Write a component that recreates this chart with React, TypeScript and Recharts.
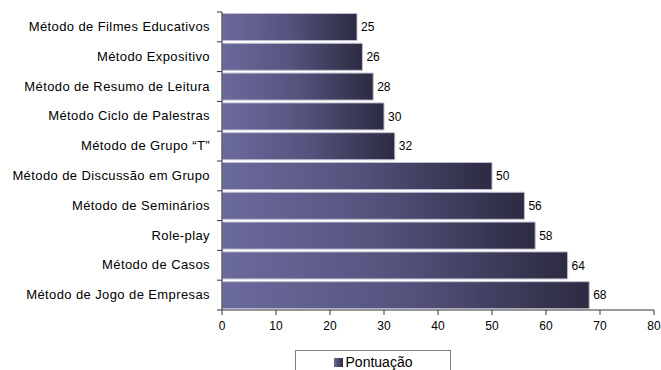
import { BarChart, Bar, XAxis, YAxis, LabelList } from "recharts"

const methods = [
  "Método de Filmes Educativos",
  "Método Expositivo",
  "Método de Resumo de Leitura",
  "Método Ciclo de Palestras",
  "Método de Grupo “T”",
  "Método de Discussão em Grupo",
  "Método de Seminários",
  "Role-play",
  "Método de Casos",
  "Método de Jogo de Empresas",
]
const scores = [25, 26, 28, 30, 32, 50, 56, 58, 64, 68]
const xTicks = [0, 10, 20, 30, 40, 50, 60, 70, 80]

const data = methods.map((name, i) => ({ name, score: scores[i] }))

const FONT = "'Liberation Sans', Arial, sans-serif"
const BAND = 298 / methods.length

// label plus Excel-style tick marks between categories
const CategoryTick = (props: any) => {
  const { x, y, payload, index } = props
  const ax = x + 12
  return (
    <g>
      <line x1={ax - 5} x2={ax} y1={y - BAND / 2} y2={y - BAND / 2} stroke="#333" />
      {index === methods.length - 1 && (
        <line x1={ax - 5} x2={ax} y1={y + BAND / 2} y2={y + BAND / 2} stroke="#333" />
      )}
      <text
        x={x}
        y={y}
        dy={4}
        textAnchor="end"
        fontSize={13}
        letterSpacing={0.4}
        fill="#000"
        fontFamily={FONT}
      >
        {payload.value}
      </text>
    </g>
  )
}

export default function App() {
  return (
    <div style={{ position: "absolute", left: 0, top: 0, width: 661, height: 370, background: "#fff" }}>
      <BarChart
        width={661}
        height={370}
        data={data}
        layout="vertical"
        margin={{ top: 12, right: 7, left: 0, bottom: 30 }}
        barCategoryGap="5%"
      >
        <defs>
          <linearGradient id="barGrad" x1="0" y1="0" x2="1" y2="0">
            <stop offset="0%" stopColor="#6b6a9d" />
            <stop offset="50%" stopColor="#55537d" />
            <stop offset="100%" stopColor="#2c2b41" />
          </linearGradient>
        </defs>
        <XAxis
          type="number"
          domain={[0, 80]}
          ticks={xTicks}
          interval={0}
          height={30}
          stroke="#333"
          tickSize={5}
          tickMargin={6}
          tick={{ fontSize: 12, fill: "#000", fontFamily: FONT }}
        />
        <YAxis
          type="category"
          dataKey="name"
          width={222}
          stroke="#333"
          tickLine={false}
          tickSize={5}
          tickMargin={7}
          interval={0}
          tick={<CategoryTick />}
        />
        <Bar dataKey="score" fill="url(#barGrad)" stroke="#bdbcd0" strokeWidth={1} isAnimationActive={false}>
          <LabelList
            dataKey="score"
            position="right"
            offset={4}
            style={{ fontSize: 12, fill: "#000", fontFamily: FONT }}
          />
        </Bar>
      </BarChart>
      <div
        style={{
          position: "absolute",
          left: 295,
          top: 350,
          width: 156,
          height: 30,
          border: "1px solid #808080",
          boxSizing: "border-box",
          fontFamily: FONT,
          fontSize: 14,
          color: "#000",
          display: "flex",
          justifyContent: "center",
          paddingTop: 3,
        }}
      >
        <span style={{ display: "flex", alignItems: "center", gap: 3, height: 16 }}>
          <span
            style={{
              display: "inline-block",
              width: 9,
              height: 9,
              background: "linear-gradient(to right, #6b6a9d, #2c2b41)",
            }}
          />
          Pontuação
        </span>
      </div>
    </div>
  )
}
